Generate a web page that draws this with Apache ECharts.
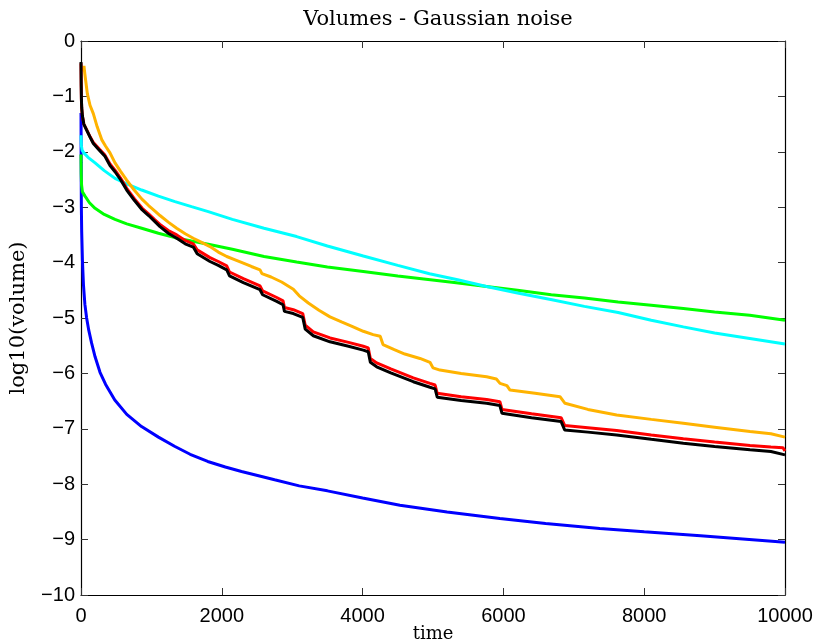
<!DOCTYPE html>
<html>
<head>
<meta charset="utf-8">
<title>Volumes - Gaussian noise</title>
<script src="https://cdn.jsdelivr.net/npm/echarts@6/dist/echarts.min.js"></script>
<style>
  html, body { margin: 0; padding: 0; background: #fff; }
  #chart { width: 818px; height: 643px; }
</style>
</head>
<body>
<div id="chart"></div>
<script>
// Axis ticks
const xTicks = [0, 2000, 4000, 6000, 8000, 10000];
const yTicks = [-10, -9, -8, -7, -6, -5, -4, -3, -2, -1, 0];

// log10(volume) against time, one [time, value] list per method
const blueSeries = [
  [0, -1.3], [2, -2.2], [5, -3.0], [10, -3.45], [20, -3.95], [35, -4.4], [55, -4.75],
  [80, -5.0], [110, -5.22], [150, -5.45], [200, -5.7], [270, -5.98], [350, -6.2],
  [480, -6.48], [650, -6.74], [860, -6.96], [1100, -7.15], [1335, -7.32], [1550, -7.46],
  [1800, -7.59], [2050, -7.69], [2280, -7.77], [2750, -7.92], [3100, -8.03], [3500, -8.12],
  [4000, -8.25], [4530, -8.38], [5200, -8.5], [5950, -8.62], [6600, -8.71], [7370, -8.8],
  [8000, -8.86], [8800, -8.93], [9400, -8.99], [10000, -9.05]
];

const greenSeries = [
  [0, -2.05], [3, -2.4], [8, -2.6], [20, -2.72], [57, -2.8], [120, -2.92], [200, -3.02],
  [330, -3.13], [483, -3.22], [650, -3.3], [862, -3.38], [1100, -3.47], [1335, -3.55],
  [1570, -3.61], [1808, -3.67], [2150, -3.76], [2600, -3.89], [3063, -3.99], [3500, -4.08],
  [4010, -4.16], [4500, -4.24], [4900, -4.3], [5300, -4.36], [5760, -4.43], [6200, -4.5],
  [6680, -4.58], [7150, -4.64], [7630, -4.71], [8100, -4.77], [8556, -4.83], [9000, -4.89],
  [9500, -4.95], [10000, -5.04]
];

const cyanSeries = [
  [0, -1.7], [5, -1.88], [15, -1.97], [40, -2.02], [100, -2.1], [200, -2.2], [330, -2.34],
  [483, -2.48], [650, -2.58], [862, -2.69], [1100, -2.8], [1335, -2.9], [1570, -2.99],
  [1808, -3.08], [2150, -3.22], [2600, -3.38], [3063, -3.53], [3500, -3.7], [4010, -3.88],
  [4500, -4.05], [4950, -4.2], [5350, -4.31], [5760, -4.43], [6200, -4.55], [6690, -4.67],
  [7150, -4.79], [7630, -4.9], [8100, -5.04], [8556, -5.16], [9000, -5.27], [9500, -5.37],
  [10000, -5.47]
];

const orangeSeries = [
  [30, -0.55], [42, -0.45], [55, -0.6], [70, -0.75], [90, -0.95], [128, -1.16], [175, -1.31],
  [230, -1.55], [294, -1.78], [350, -1.9], [412, -2.02], [483, -2.2], [560, -2.35],
  [649, -2.51], [750, -2.68], [862, -2.85], [960, -2.97], [1051, -3.07], [1122, -3.15],
  [1240, -3.27], [1359, -3.38], [1480, -3.48], [1595, -3.56], [1720, -3.64], [1832, -3.71],
  [1950, -3.81], [2070, -3.89], [2190, -3.95], [2306, -4.01], [2420, -4.07], [2543, -4.13],
  [2570, -4.2], [2700, -4.26], [2850, -4.35], [3016, -4.48], [3100, -4.6], [3229, -4.73],
  [3380, -4.86], [3537, -4.98], [3700, -5.07], [3850, -5.15], [4010, -5.24], [4150, -5.3],
  [4250, -5.33], [4290, -5.48], [4450, -5.57], [4600, -5.65], [4815, -5.73], [4957, -5.8],
  [5000, -5.9], [5099, -5.94], [5400, -6.0], [5762, -6.06], [5900, -6.1], [5952, -6.18],
  [6050, -6.22], [6094, -6.3], [6450, -6.36], [6804, -6.42], [6875, -6.54], [7200, -6.65],
  [7609, -6.75], [8100, -6.83], [8556, -6.9], [9000, -6.97], [9503, -7.05], [9800, -7.09],
  [10000, -7.15]
];

const redSeries = [
  [0, -0.4], [3, -0.82], [6, -1.07], [10, -1.22], [20, -1.36], [40, -1.5], [80, -1.6],
  [130, -1.73], [175, -1.83], [260, -1.95], [340, -2.06], [412, -2.22], [483, -2.33],
  [560, -2.47], [649, -2.66], [760, -2.85], [870, -3.02], [960, -3.12], [1050, -3.23],
  [1122, -3.31], [1240, -3.42], [1360, -3.5], [1480, -3.6], [1595, -3.66], [1650, -3.77],
  [1832, -3.91], [1950, -3.98], [2070, -4.06], [2110, -4.17], [2306, -4.29], [2543, -4.42],
  [2580, -4.51], [2780, -4.63], [2870, -4.69], [2890, -4.81], [3016, -4.85], [3150, -4.92],
  [3185, -5.13], [3300, -5.25], [3537, -5.36], [3800, -5.44], [4010, -5.51], [4080, -5.54],
  [4110, -5.73], [4200, -5.81], [4400, -5.92], [4720, -6.08], [4957, -6.18], [5030, -6.21],
  [5060, -6.36], [5400, -6.42], [5762, -6.47], [5950, -6.51], [5980, -6.65], [6400, -6.73],
  [6820, -6.8], [6870, -6.94], [7200, -6.98], [7609, -7.03], [8100, -7.11], [8556, -7.18],
  [9000, -7.24], [9503, -7.3], [9800, -7.33], [9970, -7.34], [10000, -7.4]
];

const blackSeries = [
  [0, -0.38], [3, -0.8], [6, -1.05], [10, -1.2], [20, -1.35], [40, -1.5], [80, -1.61],
  [130, -1.74], [175, -1.85], [260, -1.97], [340, -2.08], [412, -2.25], [483, -2.36],
  [560, -2.5], [649, -2.69], [760, -2.88], [870, -3.05], [960, -3.15], [1050, -3.26],
  [1122, -3.35], [1240, -3.47], [1360, -3.56], [1480, -3.66], [1595, -3.72], [1650, -3.84],
  [1832, -3.98], [1950, -4.05], [2070, -4.13], [2110, -4.24], [2306, -4.36], [2543, -4.49],
  [2580, -4.58], [2780, -4.7], [2870, -4.76], [2890, -4.88], [3016, -4.92], [3150, -4.99],
  [3185, -5.2], [3300, -5.32], [3537, -5.43], [3800, -5.51], [4010, -5.58], [4080, -5.61],
  [4110, -5.8], [4200, -5.88], [4400, -5.99], [4720, -6.15], [4957, -6.25], [5030, -6.28],
  [5060, -6.43], [5400, -6.49], [5762, -6.54], [5950, -6.58], [5980, -6.72], [6400, -6.8],
  [6820, -6.87], [6870, -7.02], [7200, -7.06], [7609, -7.11], [8100, -7.19], [8556, -7.26],
  [9000, -7.32], [9503, -7.38], [9800, -7.41], [10000, -7.47]
];

const lines = [
  { name: 'blue', data: blueSeries, color: '#0000ff' },
  { name: 'green', data: greenSeries, color: '#00ff00' },
  { name: 'cyan', data: cyanSeries, color: '#00ffff' },
  { name: 'orange', data: orangeSeries, color: '#ffb300' },
  { name: 'red', data: redSeries, color: '#ff0000' },
  { name: 'black', data: blackSeries, color: '#000000' }
];

const tickFont = { fontFamily: 'Liberation Sans', fontSize: 20, color: '#000' };
const serifFont = 'DejaVu Serif';
const plain = v => String(v).replace('-', '\u2212');

function frameAxis(extra) {
  return Object.assign({
    type: 'value',
    axisLine: { show: true, onZero: false, lineStyle: { color: '#000', width: 1.2 } },
    axisTick: { show: true, inside: true, length: 7, lineStyle: { color: '#333', width: 1 } },
    splitLine: { show: false },
    axisLabel: { show: false }
  }, extra);
}

const chart = echarts.init(document.getElementById('chart'), null, { renderer: 'canvas' });
chart.setOption({
  backgroundColor: '#fff',
  animation: false,
  title: {
    text: 'Volumes - Gaussian noise',
    left: 433,
    top: 4,
    textAlign: 'center',
    textStyle: { fontFamily: serifFont, fontSize: 21, fontWeight: 'normal', color: '#000' }
  },
  grid: { left: 81, right: 33, top: 41, bottom: 48, containLabel: false, outerBoundsMode: 'none' },
  xAxis: [
    frameAxis({
      position: 'bottom', min: 0, max: 10000, interval: 2000,
      axisLabel: { show: true, margin: 11, formatter: plain, ...tickFont },
      name: 'time', nameLocation: 'middle', nameGap: 30, nameMoveOverlap: false,
      nameTextStyle: { fontFamily: serifFont, fontSize: 18, color: '#000' }
    }),
    frameAxis({ position: 'top', min: 0, max: 10000, interval: 2000 })
  ],
  yAxis: [
    frameAxis({
      position: 'left', min: -10, max: 0, interval: 1,
      axisLabel: { show: true, margin: 6, formatter: plain, ...tickFont },
      name: 'log10(volume)', nameLocation: 'middle', nameGap: 52, nameMoveOverlap: false,
      nameTextStyle: { fontFamily: serifFont, fontSize: 21, color: '#000' }
    }),
    frameAxis({ position: 'right', min: -10, max: 0, interval: 1 })
  ],
  series: lines.map(l => ({
    name: l.name,
    type: 'line',
    data: l.data,
    showSymbol: false,
    symbol: 'none',
    clip: true,
    lineStyle: { color: l.color, width: 3 },
    emphasis: { disabled: true }
  }))
});
</script>
</body>
</html>
